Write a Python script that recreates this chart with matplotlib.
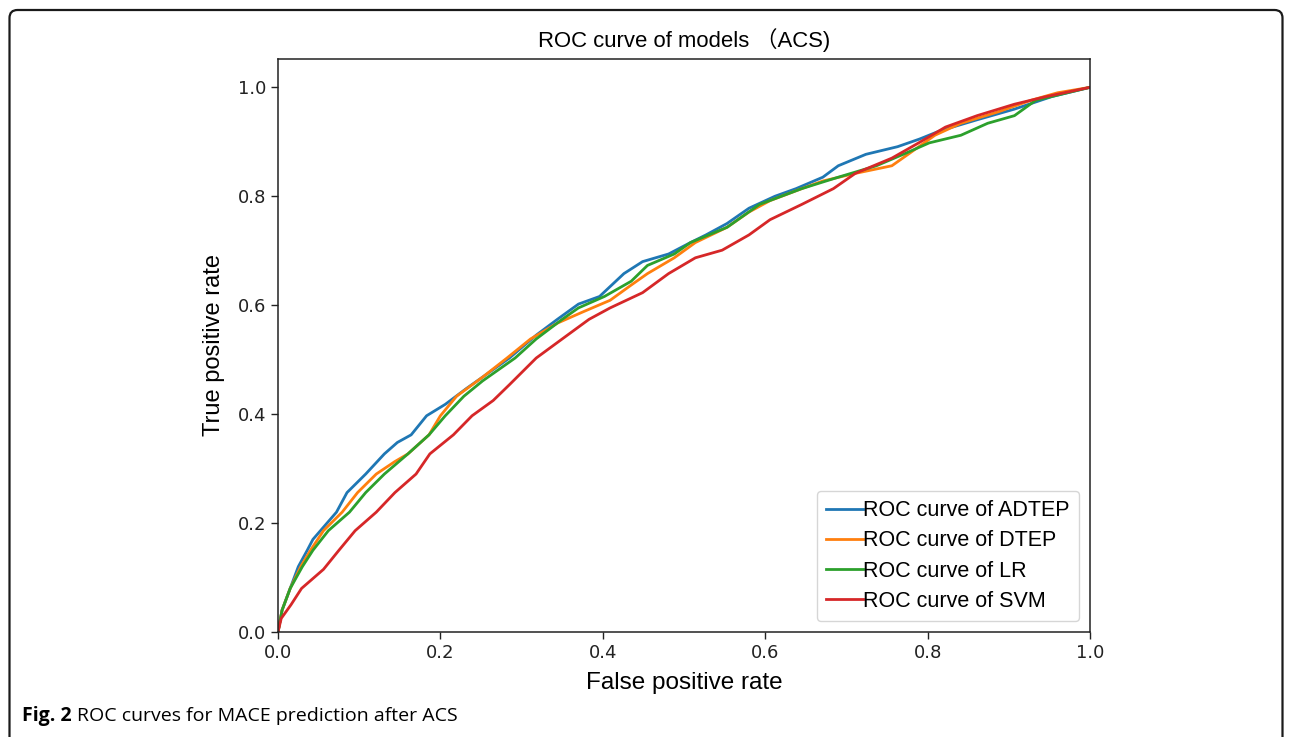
import matplotlib
matplotlib.use("Agg")
import matplotlib.pyplot as plt
from matplotlib.patches import FancyBboxPatch

# ---- data ----
adtep_fpr = [0.0, 0.005, 0.015, 0.025, 0.036, 0.043, 0.072, 0.085, 0.108, 0.131, 0.147, 0.164, 0.183,
             0.206, 0.232, 0.252, 0.285, 0.318, 0.344, 0.370, 0.396, 0.416, 0.426, 0.449, 0.481,
             0.508, 0.527, 0.553, 0.580, 0.612, 0.638, 0.671, 0.690, 0.724, 0.763, 0.790, 0.815,
             0.860, 0.907, 0.953, 1.0]
adtep_tpr = [0.0, 0.04, 0.08, 0.12, 0.15, 0.17, 0.22, 0.256, 0.29, 0.327, 0.348, 0.362, 0.397,
             0.418, 0.447, 0.468, 0.503, 0.545, 0.574, 0.602, 0.616, 0.644, 0.658, 0.680, 0.694,
             0.715, 0.729, 0.750, 0.778, 0.800, 0.814, 0.835, 0.856, 0.877, 0.891, 0.905, 0.920,
             0.940, 0.960, 0.983, 1.0]

dtep_fpr = [0.0, 0.005, 0.015, 0.028, 0.040, 0.056, 0.079, 0.098, 0.121, 0.144, 0.160, 0.186, 0.200,
            0.220, 0.252, 0.282, 0.311, 0.344, 0.376, 0.409, 0.435, 0.455, 0.488, 0.514, 0.553,
            0.580, 0.606, 0.645, 0.671, 0.711, 0.756, 0.776, 0.809, 0.841, 0.887, 0.927, 0.960, 1.0]
dtep_tpr = [0.0, 0.04, 0.08, 0.12, 0.15, 0.186, 0.22, 0.256, 0.29, 0.313, 0.327, 0.362, 0.397,
            0.433, 0.468, 0.503, 0.538, 0.567, 0.588, 0.609, 0.637, 0.658, 0.687, 0.715, 0.743,
            0.771, 0.792, 0.814, 0.828, 0.842, 0.856, 0.877, 0.912, 0.934, 0.955, 0.976, 0.990, 1.0]

lr_fpr = [0.0, 0.005, 0.015, 0.030, 0.043, 0.062, 0.088, 0.108, 0.131, 0.160, 0.186, 0.206, 0.229,
          0.252, 0.292, 0.318, 0.350, 0.370, 0.402, 0.435, 0.455, 0.488, 0.508, 0.553, 0.593,
          0.645, 0.690, 0.737, 0.770, 0.802, 0.841, 0.874, 0.907, 0.933, 0.972, 1.0]
lr_tpr = [0.0, 0.04, 0.08, 0.12, 0.15, 0.186, 0.22, 0.256, 0.29, 0.327, 0.362, 0.397, 0.433,
          0.461, 0.503, 0.538, 0.574, 0.595, 0.616, 0.644, 0.673, 0.694, 0.715, 0.743, 0.785,
          0.814, 0.835, 0.856, 0.877, 0.898, 0.912, 0.934, 0.948, 0.976, 0.990, 1.0]

svm_fpr = [0.0, 0.004, 0.016, 0.029, 0.056, 0.075, 0.095, 0.121, 0.144, 0.170, 0.187, 0.216, 0.239,
           0.265, 0.285, 0.318, 0.350, 0.383, 0.409, 0.449, 0.481, 0.514, 0.547, 0.580, 0.606,
           0.645, 0.684, 0.711, 0.756, 0.789, 0.822, 0.861, 0.907, 0.946, 1.0]
svm_tpr = [0.0, 0.025, 0.05, 0.08, 0.115, 0.15, 0.186, 0.22, 0.256, 0.29, 0.327, 0.362, 0.397,
           0.425, 0.454, 0.503, 0.538, 0.574, 0.595, 0.623, 0.658, 0.687, 0.701, 0.729, 0.757,
           0.785, 0.814, 0.842, 0.870, 0.898, 0.927, 0.948, 0.969, 0.983, 1.0]

series = [
    ("ROC curve of ADTEP", adtep_fpr, adtep_tpr, "#1f77b4"),
    ("ROC curve of DTEP", dtep_fpr, dtep_tpr, "#ff7f0e"),
    ("ROC curve of LR", lr_fpr, lr_tpr, "#2ca02c"),
    ("ROC curve of SVM", svm_fpr, svm_tpr, "#d62728"),
]
xticks = [0.0, 0.2, 0.4, 0.6, 0.8, 1.0]
yticks = [0.0, 0.2, 0.4, 0.6, 0.8, 1.0]

W, H = 1292, 737
fig = plt.figure(figsize=(W / 100, H / 100), dpi=100)
fig.patch.set_facecolor("white")

# rounded outer frame (open at bottom), drawn in inches so corners are circular
frame = FancyBboxPatch((9.5 / 100, -0.2), (W - 19) / 100, (H - 10) / 100 + 0.2,
                       boxstyle="round,pad=0,rounding_size=0.08",
                       transform=fig.dpi_scale_trans, facecolor="none",
                       edgecolor="#1a1a1a", linewidth=1.6)
fig.patches.append(frame)

ax = fig.add_axes([278 / W, 1 - 632 / H, (1090 - 278) / W, (632 - 59) / H])
for label, x, y, c in series:
    ax.plot(x, y, color=c, lw=2.0, label=label)

ax.set_xlim(0, 1)
ax.set_ylim(0, 1.052)
ax.set_xticks(xticks)
ax.set_yticks(yticks)
ax.set_xticklabels([f"{t:.1f}" for t in xticks], fontsize=13, family="DejaVu Sans")
ax.set_yticklabels([f"{t:.1f}" for t in yticks], fontsize=13, family="DejaVu Sans")
ax.tick_params(direction="out", length=5, width=1, colors="#222222")
for s in ax.spines.values():
    s.set_color("#222222")
    s.set_linewidth(1.1)

ax.set_xlabel("False positive rate", fontsize=17.5, family="Liberation Sans", labelpad=7)
ax.set_ylabel("True positive rate", fontsize=17, family="Liberation Sans", labelpad=9)
ax.set_title("ROC curve of models （ACS)", fontsize=15.9,
             family=["Liberation Sans", "Noto Sans CJK SC"], pad=9)

leg = ax.legend(loc="lower right", handlelength=1.7, handletextpad=0.0,
                borderpad=0.45, labelspacing=0.42, borderaxespad=0.5, frameon=True, fancybox=True,
                prop={"family": "Liberation Sans", "size": 15.5})
leg.get_frame().set_edgecolor("#cccccc")

fig.canvas.draw()
r = fig.canvas.get_renderer()
t1 = fig.text(22 / W, 1 - 716 / H, "Fig. 2", fontsize=14, weight="bold",
              family="Open Sans", va="center", ha="left")
bb = t1.get_window_extent(renderer=r)
fig.text((bb.x1 + 5) / W, 1 - 716 / H, "ROC curves for MACE prediction after ACS", fontsize=14,
         family="Open Sans", va="center", ha="left")

fig.savefig("out.png", dpi=100, facecolor="white")
